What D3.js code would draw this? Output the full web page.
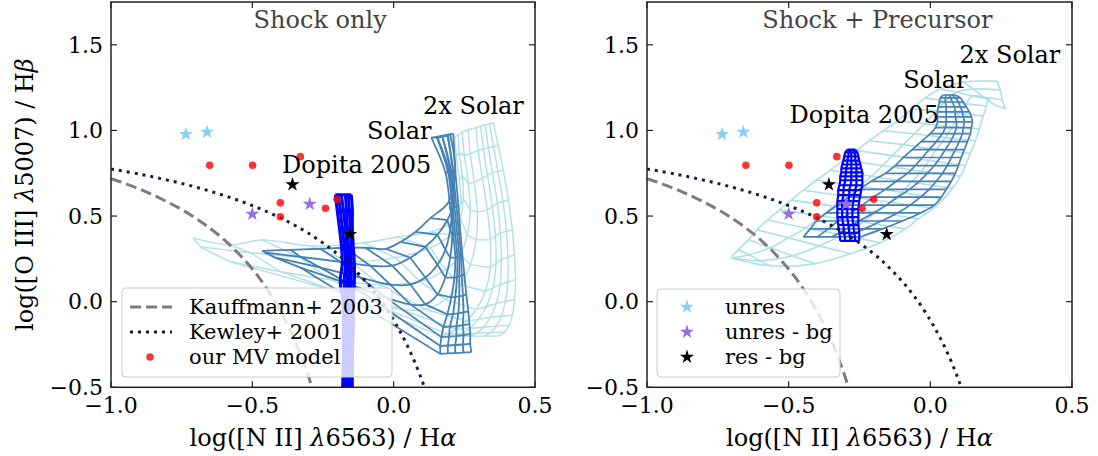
<!DOCTYPE html>
<html><head><meta charset="utf-8">
<script src="https://cdn.jsdelivr.net/npm/d3@7"></script>
<style>
body{margin:0;background:#fff}
text{font-family:"DejaVu Serif",serif}
</style></head>
<body><svg id="c" width="1098" height="456"></svg>
<script>
// ---------- data ----------
const xTicks=[-1.0,-0.5,0.0,0.5];
const yTicks=[-0.5,0.0,0.5,1.0,1.5];
const unresX=[-0.735,-0.66], unresY=[0.978,0.99];
const unresBgX=[-0.50,-0.297], unresBgY=[0.512,0.57];
const resBgX=[-0.358,-0.154], resBgY=[0.684,0.393];
const mvX=[-0.651,-0.499,-0.33,-0.401,-0.401,-0.241,-0.2];
const mvY=[0.797,0.797,0.847,0.577,0.496,0.546,0.598];
const kauffX=[-1.0,-0.95,-0.9,-0.85,-0.8,-0.75,-0.7,-0.65,-0.6,-0.55,-0.5,-0.475,-0.45,-0.425,-0.4,-0.375,-0.35,-0.325,-0.3,-0.28];
const kauffY=[0.719,0.690,0.658,0.622,0.582,0.538,0.487,0.429,0.362,0.283,0.191,0.138,0.080,0.016,-0.056,-0.135,-0.225,-0.327,-0.443,-0.548];
const kewX=[-1.0,-0.9,-0.8,-0.7,-0.6,-0.5,-0.4,-0.3,-0.2,-0.15,-0.1,-0.05,0.0,0.025,0.05,0.075,0.1,0.12];
const kewY=[0.775,0.745,0.710,0.669,0.620,0.561,0.489,0.398,0.280,0.206,0.120,0.017,-0.108,-0.181,-0.262,-0.354,-0.459,-0.553];

// Shock only grids (lines of constant B, nodes in velocity order)
const solarShock=[
[[0.275,-0.294],[0.271,-0.247],[0.271,-0.189],[0.268,-0.131],[0.264,-0.056],[0.257,0.042],[0.250,0.158],[0.243,0.274],[0.236,0.407],[0.229,0.564],[0.218,0.767],[0.211,0.981]],
[[0.247,-0.297],[0.245,-0.250],[0.247,-0.195],[0.245,-0.137],[0.247,-0.062],[0.245,0.036],[0.241,0.152],[0.238,0.268],[0.231,0.401],[0.222,0.558],[0.209,0.764],[0.192,0.975]],
[[0.218,-0.300],[0.218,-0.253],[0.222,-0.201],[0.222,-0.143],[0.229,-0.068],[0.232,0.031],[0.232,0.147],[0.232,0.262],[0.225,0.396],[0.215,0.552],[0.200,0.761],[0.172,0.969]],
[[0.192,-0.302],[0.192,-0.256],[0.196,-0.204],[0.199,-0.146],[0.210,-0.071],[0.218,0.028],[0.224,0.144],[0.225,0.260],[0.218,0.393],[0.208,0.549],[0.192,0.758],[0.152,0.963]],
[[0.165,-0.305],[0.165,-0.259],[0.169,-0.207],[0.176,-0.149],[0.190,-0.074],[0.204,0.025],[0.215,0.141],[0.218,0.257],[0.211,0.390],[0.200,0.546],[0.183,0.755],[0.133,0.958]],
[[-0.330,0.199],[-0.153,0.100],[-0.029,0.025],[0.059,-0.016],[0.112,-0.016],[0.155,0.042],[0.183,0.141],[0.200,0.257],[0.208,0.390],[0.208,0.535],[0.197,0.755],[0.155,0.958]],
[[-0.419,0.257],[-0.259,0.199],[-0.118,0.141],[-0.012,0.100],[0.059,0.100],[0.112,0.141],[0.155,0.216],[0.183,0.303],[0.200,0.419],[0.208,0.546],[0.204,0.755],[0.172,0.963]],
[[-0.454,0.286],[-0.330,0.262],[-0.189,0.233],[-0.083,0.210],[-0.005,0.210],[0.059,0.257],[0.112,0.320],[0.155,0.390],[0.190,0.477],[0.211,0.564],[0.211,0.755],[0.190,0.969]],
[[-0.465,0.297],[-0.365,0.303],[-0.259,0.309],[-0.171,0.315],[-0.100,0.315],[-0.029,0.309],[0.024,0.349],[0.077,0.407],[0.130,0.488],[0.194,0.581],[0.218,0.755],[0.200,0.975]]
];
const solar2Shock=[
[[0.370,-0.201],[0.392,-0.178],[0.409,-0.137],[0.420,-0.079],[0.427,0.013],[0.431,0.129],[0.427,0.274],[0.420,0.419],[0.406,0.593],[0.388,0.767],[0.370,0.911],[0.353,1.045]],
[[0.320,-0.201],[0.342,-0.181],[0.363,-0.143],[0.381,-0.085],[0.395,0.002],[0.404,0.115],[0.404,0.260],[0.399,0.411],[0.387,0.584],[0.369,0.761],[0.353,0.906],[0.339,1.039]],
[[0.271,-0.201],[0.292,-0.184],[0.317,-0.149],[0.342,-0.091],[0.363,-0.010],[0.377,0.100],[0.381,0.245],[0.377,0.402],[0.367,0.575],[0.349,0.755],[0.335,0.900],[0.324,1.033]],
[[0.218,-0.201],[0.241,-0.187],[0.270,-0.155],[0.300,-0.103],[0.328,-0.028],[0.351,0.080],[0.362,0.222],[0.360,0.382],[0.349,0.555],[0.332,0.738],[0.317,0.891],[0.308,1.025]],
[[0.165,-0.201],[0.190,-0.189],[0.222,-0.160],[0.257,-0.114],[0.292,-0.045],[0.324,0.060],[0.342,0.199],[0.342,0.361],[0.331,0.535],[0.314,0.720],[0.299,0.882],[0.292,1.016]],
[[-0.224,0.071],[-0.083,-0.004],[0.024,-0.045],[0.112,-0.045],[0.183,0.013],[0.236,0.100],[0.271,0.216],[0.292,0.361],[0.296,0.523],[0.285,0.697],[0.271,0.865],[0.264,1.004]],
[[-0.578,0.233],[-0.401,0.176],[-0.224,0.129],[-0.047,0.100],[0.094,0.118],[0.183,0.187],[0.236,0.274],[0.260,0.390],[0.271,0.535],[0.264,0.691],[0.250,0.853],[0.243,0.992]],
[[-0.684,0.320],[-0.507,0.286],[-0.330,0.257],[-0.153,0.233],[0.006,0.257],[0.130,0.315],[0.200,0.390],[0.236,0.488],[0.246,0.604],[0.243,0.738],[0.232,0.871],[0.229,0.975]],
[[-0.709,0.373],[-0.578,0.332],[-0.465,0.361],[-0.295,0.326],[-0.107,0.344],[0.013,0.378],[0.130,0.407],[0.208,0.465],[0.236,0.564],[0.232,0.709],[0.222,0.848],[0.215,0.958]]
];
const dopitaShockY=[0.625,0.535,0.430,0.326,0.222,0.117,-0.016,-0.160,-0.334,-0.566];
const dopitaShockX=[
[-0.206,-0.200,-0.192,-0.185,-0.182,-0.189,-0.178,-0.178,-0.178,-0.182],
[-0.196,-0.189,-0.182,-0.175,-0.171,-0.175,-0.171,-0.171,-0.171,-0.175],
[-0.185,-0.178,-0.171,-0.167,-0.164,-0.164,-0.164,-0.164,-0.164,-0.167],
[-0.171,-0.167,-0.164,-0.160,-0.157,-0.157,-0.157,-0.157,-0.157,-0.160],
[-0.160,-0.157,-0.153,-0.150,-0.150,-0.150,-0.150,-0.150,-0.153,-0.153],
[-0.150,-0.146,-0.146,-0.143,-0.139,-0.139,-0.143,-0.143,-0.146,-0.146]
];

// Shock + precursor grids
const solar2Prec=[
[[-0.702,0.262],[-0.678,0.303],[-0.642,0.361],[-0.611,0.419],[-0.575,0.477],[-0.533,0.535],[-0.491,0.593],[-0.448,0.651],[-0.402,0.709],[-0.353,0.767],[-0.307,0.824],[-0.261,0.882],[-0.215,0.940],[-0.166,0.998],[-0.116,1.056],[-0.064,1.126],[-0.018,1.190],[0.035,1.242],[0.116,1.282],[0.236,1.288]],
[[-0.699,0.257],[-0.639,0.274],[-0.565,0.315],[-0.501,0.373],[-0.441,0.430],[-0.385,0.500],[-0.342,0.558],[-0.297,0.616],[-0.254,0.674],[-0.208,0.732],[-0.169,0.795],[-0.134,0.853],[-0.095,0.917],[-0.056,0.981],[-0.021,1.039],[0.021,1.114],[0.053,1.172],[0.092,1.224],[0.152,1.242],[0.247,1.236]],
[[-0.699,0.257],[-0.604,0.239],[-0.487,0.268],[-0.392,0.326],[-0.311,0.390],[-0.237,0.465],[-0.191,0.523],[-0.141,0.581],[-0.102,0.639],[-0.067,0.697],[-0.032,0.761],[-0.004,0.824],[0.021,0.888],[0.053,0.958],[0.078,1.021],[0.102,1.097],[0.127,1.155],[0.148,1.201],[0.187,1.195],[0.254,1.178]],
[[-0.695,0.251],[-0.565,0.210],[-0.406,0.222],[-0.282,0.280],[-0.176,0.344],[-0.088,0.425],[-0.042,0.483],[0.011,0.546],[0.046,0.598],[0.078,0.662],[0.106,0.732],[0.124,0.795],[0.141,0.865],[0.159,0.940],[0.173,1.010],[0.187,1.085],[0.198,1.143],[0.205,1.184],[0.222,1.155],[0.265,1.126]]
];
const solarPrecY=[0.378,0.425,0.471,0.518,0.564,0.610,0.656,0.703,0.749,0.795,0.842,0.888,0.935,0.981,1.016,1.050,1.079,1.108,1.137,1.166,1.190,1.207];
const solarPrecX=[
[-0.448,-0.424,-0.402,-0.367,-0.328,-0.289,-0.251,-0.208,-0.159,-0.124,-0.095,-0.064,-0.032,0.000,0.018,0.025,0.025,0.025,0.028,0.032,0.035,0.046],
[-0.399,-0.360,-0.325,-0.282,-0.240,-0.201,-0.159,-0.120,-0.081,-0.053,-0.028,-0.004,0.021,0.042,0.053,0.056,0.056,0.056,0.056,0.053,0.053,0.056],
[-0.349,-0.297,-0.251,-0.201,-0.155,-0.116,-0.074,-0.039,-0.011,0.014,0.035,0.053,0.071,0.085,0.092,0.092,0.088,0.088,0.085,0.078,0.071,0.067],
[-0.297,-0.233,-0.173,-0.116,-0.071,-0.035,-0.004,0.021,0.042,0.060,0.074,0.088,0.102,0.113,0.116,0.120,0.116,0.113,0.106,0.099,0.088,0.078],
[-0.247,-0.169,-0.099,-0.035,0.014,0.039,0.056,0.074,0.088,0.099,0.109,0.120,0.131,0.141,0.145,0.148,0.145,0.138,0.127,0.116,0.106,0.088]
];
const dopitaPrecY=[0.355,0.402,0.448,0.494,0.541,0.587,0.622,0.651,0.680,0.709,0.732,0.755,0.778,0.801,0.824,0.848,0.871,0.888];
const dopitaPrecX=[
[-0.318,-0.321,-0.325,-0.328,-0.328,-0.328,-0.325,-0.325,-0.321,-0.318,-0.318,-0.314,-0.314,-0.311,-0.307,-0.304,-0.300,-0.293],
[-0.300,-0.304,-0.307,-0.311,-0.311,-0.311,-0.307,-0.307,-0.304,-0.300,-0.300,-0.297,-0.297,-0.293,-0.293,-0.289,-0.289,-0.286],
[-0.282,-0.286,-0.289,-0.293,-0.293,-0.289,-0.286,-0.286,-0.282,-0.279,-0.279,-0.279,-0.279,-0.279,-0.279,-0.279,-0.279,-0.279],
[-0.265,-0.268,-0.272,-0.275,-0.275,-0.272,-0.268,-0.265,-0.261,-0.261,-0.261,-0.261,-0.261,-0.261,-0.265,-0.265,-0.268,-0.272],
[-0.251,-0.251,-0.254,-0.254,-0.254,-0.251,-0.247,-0.244,-0.240,-0.240,-0.240,-0.240,-0.244,-0.247,-0.251,-0.254,-0.258,-0.265]
];

const labelsShock=[["Dopita 2005",-0.395,0.749],["Solar",-0.094,0.952],["2x Solar",0.104,1.097]];
const labelsPrec=[["Dopita 2005",-0.497,1.046],["Solar",-0.096,1.247],["2x Solar",0.103,1.394]];

// ---------- colours ----------
const C={light:"#b0e0e6",steel:"#4682b4",blue:"#0000ff",kauff:"#87787d",kew:"#1b1a40",
  unres:"#87cefa",unresBg:"#9370db",resBg:"#000000",mv:"#ff0000"};

const svg=d3.select("#c");
const fromLevels=(ys,xs)=>xs.map(r=>r.map((v,j)=>[v,ys[j]]));

const panels=[
 {x0:111,x1:535,title:"Shock only",titleX:-0.26,
  grids:[[solar2Shock,C.light,1.4],[solarShock,C.steel,1.8],[fromLevels(dopitaShockY,dopitaShockX),C.blue,3]],
  labels:labelsShock,legend:"lines",ylab:true},
 {x0:647,x1:1072,title:"Shock + Precursor",titleX:-0.187,
  grids:[[solar2Prec,C.light,1.6],[fromLevels(solarPrecY,solarPrecX),C.steel,1.7],[fromLevels(dopitaPrecY,dopitaPrecX),C.blue,2.2]],
  labels:labelsPrec,legend:"stars",ylab:false}
];
const yTop=2,yBot=387.3;
const y=d3.scaleLinear().domain([-0.5,1.75]).range([yBot,yTop]);

panels.forEach((p,pi)=>{
  const x=d3.scaleLinear().domain([-1,0.5]).range([p.x0,p.x1]);
  const g=svg.append("g");
  const cid="clip"+pi;
  svg.append("clipPath").attr("id",cid).append("rect").attr("x",p.x0).attr("y",yTop).attr("width",p.x1-p.x0).attr("height",yBot-yTop);
  const pg=g.append("g").attr("clip-path",`url(#${cid})`);
  const lin=d3.line().x(d=>x(d[0])).y(d=>y(d[1]));
  const smooth=d3.line().x(d=>x(d[0])).y(d=>y(d[1])).curve(d3.curveCatmullRom.alpha(0.5));
  // grids
  p.grids.forEach(([lines,col,w])=>{
    const mg=pg.append("g").attr("fill","none").attr("stroke",col).attr("stroke-width",w);
    lines.forEach(l=>mg.append("path").attr("d",smooth(l)));
    const n=lines[0].length;
    for(let j=0;j<n;j++) mg.append("path").attr("d",lin(lines.map(l=>l[j])));
  });
  // demarcation curves
  pg.append("path").attr("d",smooth(kauffX.map((v,i)=>[v,kauffY[i]]))).attr("fill","none")
    .attr("stroke",C.kauff).attr("stroke-width",3).attr("stroke-dasharray","11,5");
  pg.append("path").attr("d",smooth(kewX.map((v,i)=>[v,kewY[i]]))).attr("fill","none")
    .attr("stroke",C.kew).attr("stroke-width",3).attr("stroke-dasharray","3,5");
  // points
  pg.selectAll(".mv").data(mvX).join("circle").attr("cx",d=>x(d)).attr("cy",(d,i)=>y(mvY[i]))
    .attr("r",3.8).attr("fill",C.mv).attr("fill-opacity",0.8);
  const star=d3.symbol().type(d3.symbolStar).size(62);
  const starSet=(xs,ys,col)=>pg.append("g").selectAll("path").data(xs).join("path").attr("d",star)
    .attr("transform",(d,i)=>`translate(${x(d)},${y(ys[i])})`).attr("fill",col);
  starSet(unresX,unresY,C.unres);
  starSet(unresBgX,unresBgY,C.unresBg);
  starSet(resBgX,resBgY,C.resBg);
  // grid labels
  p.labels.forEach(([t,lx,ly])=>g.append("text").attr("x",x(lx)).attr("y",y(ly)).attr("font-size",24).attr("fill","#000").text(t));
  // title
  g.append("text").attr("x",x(p.titleX)).attr("y",28).attr("text-anchor","middle").attr("font-size",24).attr("fill","#444").text(p.title);
  // frame
  g.append("rect").attr("x",p.x0).attr("y",yTop).attr("width",p.x1-p.x0).attr("height",yBot-yTop)
    .attr("fill","none").attr("stroke","#222").attr("stroke-width",1.5);
  // ticks inward on all sides
  const tk=g.append("g").attr("stroke","#222").attr("stroke-width",1.2);
  xTicks.forEach(v=>{tk.append("line").attr("x1",x(v)).attr("x2",x(v)).attr("y1",yBot).attr("y2",yBot-6);
                     tk.append("line").attr("x1",x(v)).attr("x2",x(v)).attr("y1",yTop).attr("y2",yTop+6);});
  yTicks.forEach(v=>{tk.append("line").attr("x1",p.x0).attr("x2",p.x0+6).attr("y1",y(v)).attr("y2",y(v));
                     tk.append("line").attr("x1",p.x1).attr("x2",p.x1-6).attr("y1",y(v)).attr("y2",y(v));});
  const fmt=d3.format(".1f");
  xTicks.forEach(v=>g.append("text").attr("x",x(v)).attr("y",413).attr("text-anchor","middle").attr("font-size",22).text(fmt(v)));
  yTicks.forEach(v=>g.append("text").attr("x",p.x0-8).attr("y",y(v)).attr("dy","0.35em").attr("text-anchor","end").attr("font-size",22).text(fmt(v)));
  // x label
  const xl=g.append("text").attr("x",(p.x0+p.x1)/2).attr("y",446).attr("text-anchor","middle").attr("font-size",24);
  xl.append("tspan").text("log([N II] ");xl.append("tspan").attr("font-style","italic").text("λ");
  xl.append("tspan").text("6563) / H");xl.append("tspan").attr("font-style","italic").text("α");
  if(p.ylab){
    const yl=g.append("text").attr("transform",`translate(33,${(yTop+yBot)/2}) rotate(-90)`).attr("text-anchor","middle").attr("font-size",24);
    yl.append("tspan").text("log([O III] ");yl.append("tspan").attr("font-style","italic").text("λ");
    yl.append("tspan").text("5007) / H");yl.append("tspan").attr("font-style","italic").text("β");
  }
  // legend
  const lg=g.append("g");
  if(p.legend==="lines"){
    lg.append("rect").attr("x",p.x0+11).attr("y",288).attr("width",270).attr("height",89).attr("rx",4)
      .attr("fill","#fff").attr("fill-opacity",0.8).attr("stroke","#ccc");
    const rows=[307,332,357];
    lg.append("line").attr("x1",p.x0+19).attr("x2",p.x0+61).attr("y1",rows[0]).attr("y2",rows[0])
      .attr("stroke",C.kauff).attr("stroke-width",3).attr("stroke-dasharray","11,5");
    lg.append("line").attr("x1",p.x0+19).attr("x2",p.x0+61).attr("y1",rows[1]).attr("y2",rows[1])
      .attr("stroke",C.kew).attr("stroke-width",3).attr("stroke-dasharray","3,5");
    lg.append("circle").attr("cx",p.x0+39).attr("cy",rows[2]).attr("r",3.8).attr("fill",C.mv).attr("fill-opacity",0.8);
    ["Kauffmann+ 2003","Kewley+ 2001","our MV model"].forEach((t,i)=>
      lg.append("text").attr("x",p.x0+78).attr("y",rows[i]).attr("dy","0.35em").attr("font-size",21).text(t));
  } else {
    lg.append("rect").attr("x",p.x0+10).attr("y",289).attr("width",183).attr("height",88).attr("rx",4)
      .attr("fill","#fff").attr("fill-opacity",0.8).attr("stroke","#ccc");
    const rows=[307,332,357];
    [C.unres,C.unresBg,C.resBg].forEach((c,i)=>lg.append("path").attr("d",d3.symbol().type(d3.symbolStar).size(62)())
      .attr("transform",`translate(${p.x0+40},${rows[i]})`).attr("fill",c));
    ["unres","unres - bg","res - bg"].forEach((t,i)=>
      lg.append("text").attr("x",p.x0+78).attr("y",rows[i]).attr("dy","0.35em").attr("font-size",21).text(t));
  }
});
</script></body></html>
